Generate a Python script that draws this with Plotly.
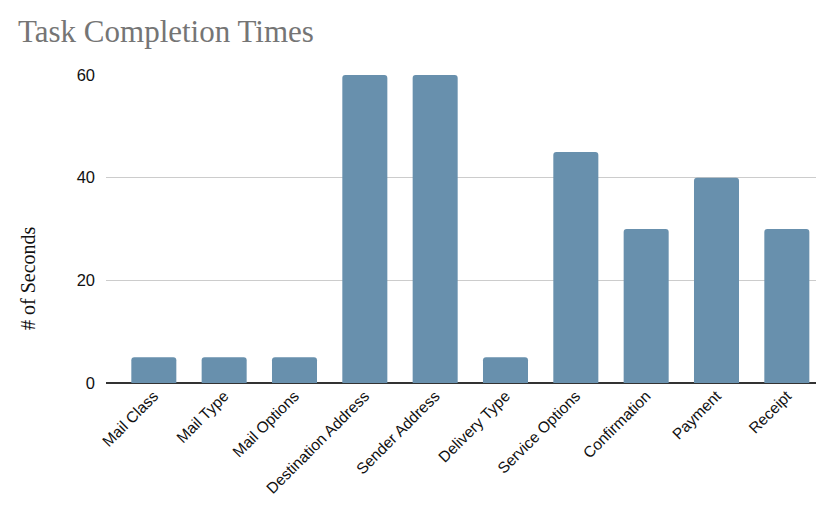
import plotly.graph_objects as go

categories = ["Mail Class", "Mail Type", "Mail Options", "Destination Address",
              "Sender Address", "Delivery Type", "Service Options", "Confirmation",
              "Payment", "Receipt"]
seconds = [5, 5, 5, 60, 60, 5, 45, 30, 40, 30]
y_ticks = [0, 20, 40, 60]

# page has an 8px body margin
OFF = 8
W, H = 824 - OFF, 508 - OFF
L, T = 106 - OFF, 75 - OFF
B = H - (383 - OFF)
R = W - (822 - OFF)
pw, ph = W - L - R, H - T - B

fig = go.Figure(go.Bar(
    x=categories, y=seconds,
    marker=dict(color="#6890ad", line=dict(width=0)),
    width=0.64,
))

fig.update_layout(
    width=W, height=H,
    margin=dict(l=L, r=R, t=T, b=B),
    paper_bgcolor="white", plot_bgcolor="white",
    barcornerradius=3,
    showlegend=False,
    title=dict(text="Task Completion Times", xref="container", yref="container",
               x=(18 - OFF) / W, xanchor="left", y=1 - (31 - OFF) / H, yanchor="middle",
               font=dict(family="Liberation Serif, Georgia, serif", size=31, color="#757575")),
    xaxis=dict(type="category", range=[-0.68, 9.5], tickangle=-45,
               tickfont=dict(family="Liberation Sans, Arial, sans-serif", size=15.5, color="#111111"),
               showgrid=False, showline=False, zeroline=False, ticks=""),
    yaxis=dict(range=[0, 60], tickvals=y_ticks, showgrid=True, gridcolor="#cccccc",
               zeroline=True, zerolinecolor="#333333", zerolinewidth=1.5,
               tickfont=dict(family="Liberation Sans, Arial, sans-serif", size=16.5, color="#111111"),
               ticklabelstandoff=10, showline=False),
    annotations=[dict(text="# of Seconds", textangle=-90, xref="paper", yref="paper",
                      x=(28 - 106) / pw, y=(383 - 278) / ph, xanchor="center", yanchor="middle",
                      showarrow=False,
                      font=dict(family="Liberation Serif, Georgia, serif", size=20, color="#111111"))],
)

fig.write_html("out.html")
